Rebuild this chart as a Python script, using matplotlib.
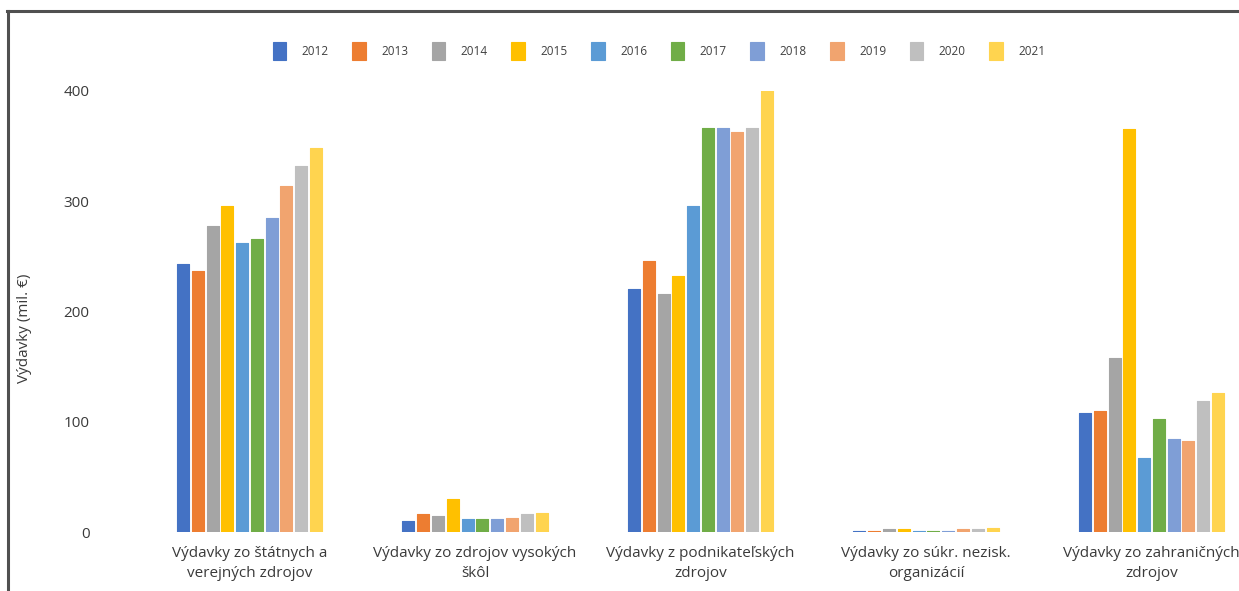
import matplotlib
matplotlib.use("Agg")
import matplotlib.pyplot as plt
from matplotlib.lines import Line2D
import numpy as np

plt.rcParams['font.family'] = ['Open Sans', 'DejaVu Sans']

categories = [
    "Výdavky zo štátnych a\nverejných zdrojov",
    "Výdavky zo zdrojov vysokých\nškôl",
    "Výdavky z podnikateľských\nzdrojov",
    "Výdavky zo súkr. nezisk.\norganizácií",
    "Výdavky zo zahraničných\nzdrojov",
]
years = ["2012", "2013", "2014", "2015", "2016", "2017", "2018", "2019", "2020", "2021"]

# spending per source (mil. €), one list per year
v2012 = [242.8, 10.2, 220.1, 1.0, 108.2]
v2013 = [236.7, 16.3, 245.8, 1.0, 109.8]
v2014 = [277.6, 14.5, 215.6, 2.4, 158.1]
v2015 = [295.7, 29.6, 232.2, 2.4, 365.2]
v2016 = [262.1, 11.5, 295.7, 1.2, 67.1]
v2017 = [265.8, 11.5, 366.7, 1.2, 102.2]
v2018 = [285.1, 11.5, 366.7, 1.2, 84.1]
v2019 = [313.8, 12.7, 362.5, 2.4, 82.5]
v2020 = [332.3, 16.3, 366.7, 2.4, 118.8]
v2021 = [348.6, 17.2, 408.0, 3.6, 126.4]
series = [v2012, v2013, v2014, v2015, v2016, v2017, v2018, v2019, v2020, v2021]

colors = ["#4472C4", "#ED7D31", "#A5A5A5", "#FFC000", "#5B9BD5",
          "#70AD47", "#7F9ED6", "#F1A46F", "#BFBFBF", "#FFD44F"]

fig = plt.figure(figsize=(12.39, 5.91), dpi=100)
ax = fig.add_axes([136.75 / 1239, 59 / 591, 1127.5 / 1239, 441 / 591])

x = np.arange(len(categories))
pitch = 0.0656
width = 0.0532
for i, (yr, vals, col) in enumerate(zip(years, series, colors)):
    bars = ax.bar(x + (i - 4.5) * pitch, vals, width, color=col, label=yr,
                  edgecolor=col, linewidth=0.8, zorder=2)
    for b in bars:
        b.set_joinstyle("round")

ax.set_xlim(-0.5, 4.5)
ax.set_ylim(0, 400)
ax.set_yticks([0, 100, 200, 300, 400])
ax.set_xticks(x)
ax.set_xticklabels(categories, fontsize=11, color="#3a3a3a", linespacing=1.45)
ax.tick_params(axis="x", length=0, pad=10)
ax.tick_params(axis="y", length=0, pad=34, labelsize=11, labelcolor="#3a3a3a")
for s in ax.spines.values():
    s.set_visible(False)

fig.text(25 / 1239, 1 - 328 / 591, "Výdavky (mil. €)", rotation=90,
         ha="center", va="center", fontsize=11, color="#3a3a3a")

leg = fig.legend(loc="center", bbox_to_anchor=(659 / 1239, 1 - 51 / 591),
                 ncol=10, frameon=False, fontsize=8.5, handlelength=1.15,
                 handleheight=1.9, handletextpad=1.3, columnspacing=2.0,
                 labelcolor="#404040")

# outer frame
frame_kw = dict(color="#505050", linewidth=2.2, transform=fig.transFigure)
fig.add_artist(Line2D([8.3 / 1239, 8.3 / 1239], [-0.05, 1 - 11 / 591], **frame_kw))
fig.add_artist(Line2D([7.2 / 1239, 1.05], [1 - 11 / 591, 1 - 11 / 591], **frame_kw))

fig.savefig("out.png", dpi=100)
